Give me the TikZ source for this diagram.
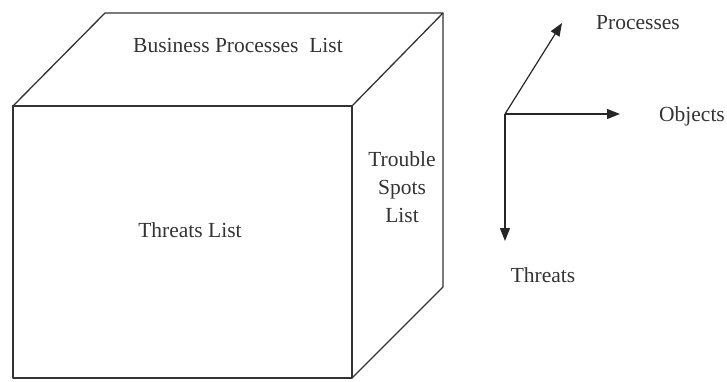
\documentclass[tikz,border=0pt]{standalone}
\usepackage{fontspec}
\setmainfont{Liberation Serif}
\usetikzlibrary{arrows.meta}
\begin{document}
\begin{tikzpicture}[x=1pt,y=-1pt,
  edge/.style={draw=black!80,line width=1.3pt,line join=round},
  axis/.style={draw=black!85,line width=1.2pt,-{Triangle[length=13pt,width=10pt]}},
  lbl/.style={font=\fontsize{21.5}{28}\selectfont,text=black!80,inner sep=0pt,align=center}]
\useasboundingbox (0,0) rectangle (727,381);
% cube corners
\coordinate (ftl) at (13,106);
\coordinate (ftr) at (352,106);
\coordinate (fbr) at (352,378);
\coordinate (fbl) at (13,378);
\coordinate (btl) at (105,13);
\coordinate (btr) at (443,13);
\coordinate (bbr) at (443,287);
\draw[edge] (ftl) -- (ftr) -- (fbr) -- (fbl) -- cycle;
\draw[edge] (ftl) -- (btl) -- (btr) -- (ftr);
\draw[edge] (btr) -- (bbr) -- (fbr);
% labels
\node[lbl] (bpl) at (238,45) {Business Processes\ \ List};
\node[lbl] (tl) at (190,230) {Threats List};
\node[lbl] (tsl) at (402,187) {Trouble\\Spots\\List};
% axes
\coordinate (o) at (505,114);
\coordinate (pt) at (562,23);
\coordinate (ot) at (620,114);
\coordinate (tt) at (505,241);
\draw[axis] (o) -- (pt);
\draw[axis] (o) -- (ot);
\draw[axis] (o) -- (tt);
\node[lbl] (pl) at (638,23) {Processes};
\node[lbl] (ol) at (692,116) {Objects};
\node[lbl] (thl) at (543,275) {Threats};
\end{tikzpicture}
\end{document}
